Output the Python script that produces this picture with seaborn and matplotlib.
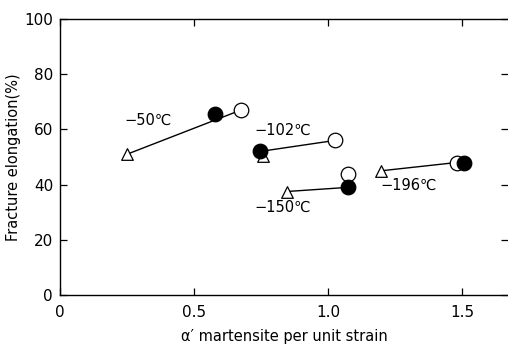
import matplotlib
matplotlib.use("Agg")
import matplotlib.pyplot as plt
import seaborn as sns
import pandas as pd

sns.set_theme(style="ticks")
plt.rcParams['font.family'] = ['DejaVu Sans']

# Data
temps = ["−50℃", "−102℃", "−150℃", "−196℃"]
tri_x = [0.25, 0.757, 0.847, 1.198]
tri_y = [51.0, 50.5, 37.5, 45.0]
filled_x = [0.578, 0.746, 1.075, 1.507]
filled_y = [65.5, 52.0, 39.0, 48.0]
open_x = [0.675, 1.026, 1.075, 1.48]
open_y = [67.0, 56.0, 44.0, 48.0]
# line endpoints: (start series, end series) for each temperature
line_start = ["tri", "filled", "tri", "tri"]
line_end = ["open", "open", "filled", "open"]
label_x = [0.33, 0.83, 0.83, 1.30]
label_y = [63.4, 59.8, 31.9, 39.9]

xticks = [0, 0.5, 1.0, 1.5]
xticklabels = ["0", "0.5", "1.0", "1.5"]
yticks = [0, 20, 40, 60, 80, 100]

fig = plt.figure(figsize=(5.08, 3.51), dpi=100)
ax = fig.add_axes([60/508, (351-295)/351, (508-60)/508, (295-19)/351])

series = {"tri": (tri_x, tri_y), "filled": (filled_x, filled_y), "open": (open_x, open_y)}
rows = []
for i, t in enumerate(temps):
    sx, sy = series[line_start[i]]
    ex, ey = series[line_end[i]]
    rows.append({"temp": t, "x": sx[i], "y": sy[i]})
    rows.append({"temp": t, "x": ex[i], "y": ey[i]})
lines_df = pd.DataFrame(rows)
sns.lineplot(data=lines_df, x="x", y="y", units="temp", estimator=None,
             color="black", lw=1.0, sort=False, ax=ax, zorder=1)

tri_df = pd.DataFrame({"x": tri_x, "y": tri_y})
sns.scatterplot(data=tri_df, x="x", y="y", marker="^", s=70, facecolor="white",
                edgecolor="black", linewidth=0.9, ax=ax, zorder=2)
open_df = pd.DataFrame({"x": open_x, "y": open_y})
sns.scatterplot(data=open_df, x="x", y="y", marker="o", s=110, facecolor="white",
                edgecolor="black", linewidth=0.9, ax=ax, zorder=3)
filled_df = pd.DataFrame({"x": filled_x, "y": filled_y})
sns.scatterplot(data=filled_df, x="x", y="y", marker="o", s=110, facecolor="black",
                edgecolor="black", linewidth=0.9, ax=ax, zorder=4)

for t, lx, ly in zip(temps, label_x, label_y):
    ax.text(lx, ly, t, ha="center", va="center", fontsize=10.5, color="black")

ax.set_xlim(0, 1.672)
ax.set_ylim(0, 100)
ax.set_xticks(xticks)
ax.set_xticklabels(xticklabels)
ax.set_yticks(yticks)
ax.tick_params(axis="both", direction="in", labelsize=11, length=5, width=0.9,
               top=True, right=True, colors="black", pad=5)
ax.tick_params(axis="x", pad=7)
for side in ["left", "bottom", "top"]:
    ax.spines[side].set_color("black")
    ax.spines[side].set_linewidth(1.0)
ax.spines["right"].set_visible(False)
ax.set_xlabel("α′ martensite per unit strain", fontsize=10.5, color="black", labelpad=7)
ax.set_ylabel("Fracture elongation(%)", fontsize=10.5, color="black", labelpad=2)

fig.savefig("out.png", dpi=100)
